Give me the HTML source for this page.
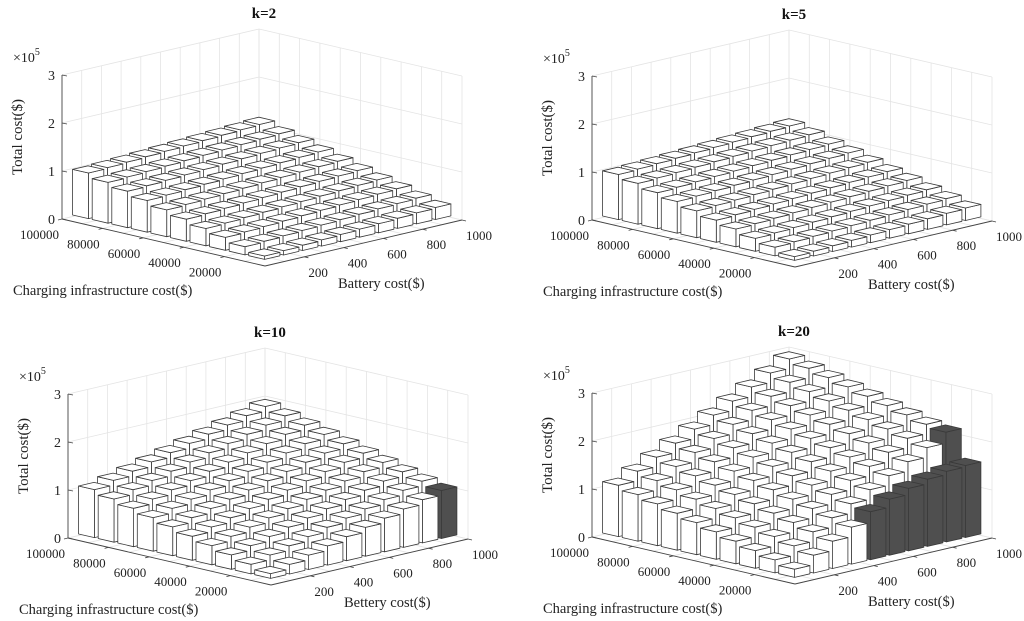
<!DOCTYPE html>
<html><head><meta charset="utf-8">
<style>
html,body{margin:0;padding:0;background:#fff;}
svg{display:block;font-family:"Liberation Serif",serif;}
</style></head>
<body>
<svg id="chart" width="1024" height="621" viewBox="0 0 1024 621" xmlns="http://www.w3.org/2000/svg"></svg>
<script>
// ---- data ----
const batteryCats = [100,200,300,400,500,600,700,800,900,1000];
const chargingCats = [10000,20000,30000,40000,50000,60000,70000,80000,90000,100000];
const batteryTicks = [200,400,600,800,1000];
const chargingTicks = [20000,40000,60000,80000,100000];
const zTicks = [0,1,2,3];
// rows = charging index (10000..100000), columns = battery index (100..1000), units of 1e5
const costK2 = [
 [0.07,0.09,0.11,0.13,0.15,0.17,0.19,0.21,0.23,0.25],
 [0.17,0.19,0.21,0.23,0.25,0.27,0.29,0.31,0.33,0.35],
 [0.27,0.29,0.31,0.33,0.35,0.37,0.39,0.41,0.43,0.45],
 [0.36,0.38,0.40,0.42,0.44,0.46,0.48,0.50,0.52,0.54],
 [0.46,0.48,0.50,0.52,0.54,0.56,0.58,0.60,0.62,0.64],
 [0.56,0.58,0.60,0.62,0.64,0.66,0.68,0.70,0.72,0.74],
 [0.66,0.68,0.70,0.72,0.74,0.76,0.78,0.80,0.82,0.84],
 [0.76,0.78,0.80,0.82,0.84,0.86,0.88,0.90,0.92,0.94],
 [0.85,0.87,0.89,0.91,0.93,0.95,0.97,0.99,1.01,1.03],
 [0.95,0.97,0.99,1.01,1.03,1.05,1.07,1.09,1.11,1.13]];
const costK5 = [
 [0.08,0.10,0.12,0.14,0.16,0.18,0.20,0.22,0.24,0.26],
 [0.18,0.20,0.22,0.24,0.26,0.28,0.30,0.32,0.34,0.36],
 [0.27,0.29,0.31,0.33,0.35,0.37,0.39,0.41,0.43,0.45],
 [0.37,0.39,0.41,0.43,0.45,0.47,0.49,0.51,0.53,0.55],
 [0.46,0.48,0.50,0.52,0.54,0.56,0.58,0.60,0.62,0.64],
 [0.56,0.58,0.60,0.62,0.64,0.66,0.68,0.70,0.72,0.74],
 [0.66,0.68,0.70,0.72,0.74,0.76,0.78,0.80,0.82,0.84],
 [0.75,0.77,0.79,0.81,0.83,0.85,0.87,0.89,0.91,0.93],
 [0.85,0.87,0.89,0.91,0.93,0.95,0.97,0.99,1.01,1.03],
 [0.94,0.96,0.98,1.00,1.02,1.04,1.06,1.08,1.10,1.12]];
const costK10 = [
 [0.10,0.20,0.30,0.40,0.50,0.60,0.70,0.80,0.90,1.00],
 [0.20,0.30,0.40,0.50,0.60,0.70,0.80,0.90,1.00,1.10],
 [0.30,0.40,0.50,0.60,0.70,0.80,0.90,1.00,1.10,1.20],
 [0.40,0.50,0.60,0.70,0.80,0.90,1.00,1.10,1.20,1.30],
 [0.50,0.60,0.70,0.80,0.90,1.00,1.10,1.20,1.30,1.40],
 [0.60,0.70,0.80,0.90,1.00,1.10,1.20,1.30,1.40,1.50],
 [0.70,0.80,0.90,1.00,1.10,1.20,1.30,1.40,1.50,1.60],
 [0.80,0.90,1.00,1.10,1.20,1.30,1.40,1.50,1.60,1.70],
 [0.90,1.00,1.10,1.20,1.30,1.40,1.50,1.60,1.70,1.80],
 [1.00,1.10,1.20,1.30,1.40,1.50,1.60,1.70,1.80,1.90]];
const costK20 = [
 [0.17,0.37,0.57,0.77,1.00,1.17,1.30,1.40,1.47,1.50],
 [0.27,0.47,0.67,0.87,1.07,1.27,1.47,1.67,1.87,2.10],
 [0.37,0.57,0.77,0.97,1.17,1.37,1.57,1.77,1.97,2.17],
 [0.47,0.67,0.87,1.07,1.27,1.47,1.67,1.87,2.07,2.27],
 [0.57,0.77,0.97,1.17,1.37,1.57,1.77,1.97,2.17,2.37],
 [0.67,0.87,1.07,1.27,1.47,1.67,1.87,2.07,2.27,2.47],
 [0.77,0.97,1.17,1.37,1.57,1.77,1.97,2.17,2.37,2.57],
 [0.87,1.07,1.27,1.47,1.67,1.87,2.07,2.27,2.47,2.67],
 [0.97,1.17,1.37,1.57,1.77,1.97,2.17,2.37,2.57,2.77],
 [1.07,1.27,1.47,1.67,1.87,2.07,2.27,2.47,2.67,2.87]];
// highlighted (dark) bars: [battery, charging]
const darkK2 = [];
const darkK5 = [];
const darkK10 = [[1000,10000]];
const darkK20 = [[500,10000],[600,10000],[700,10000],[800,10000],[900,10000],[1000,10000],[1000,20000]];

const panels = [
 {title:'k=2', z:costK2, dark:darkK2, dx:0, dy:0, blabel:'Battery cost($)'},
 {title:'k=5', z:costK5, dark:darkK5, dx:530, dy:1, blabel:'Battery cost($)'},
 {title:'k=10', z:costK10, dark:darkK10, dx:6, dy:319, blabel:'Bettery cost($)'},
 {title:'k=20', z:costK20, dark:darkK20, dx:530, dy:318, blabel:'Battery cost($)'}
];

const NS='http://www.w3.org/2000/svg';
const svg=document.getElementById('chart');
// tick scales (axis box fractions)
const aTick=v=>v/1000;
const bTick=v=>v/100000;
// bar position scales (bars are inset within the box)
const aScale=v=>0.11+(v-100)/1000*0.964;
const bScale=v=>0.11+(v-10000)/100000*0.964;
function P(a,b,z){return [265+197*a-203*b, 266-46*a-47*b-48*z];}
function mk(tag,attrs,parent){const e=document.createElementNS(NS,tag);for(const k in attrs)e.setAttribute(k,attrs[k]);parent.appendChild(e);return e;}
function pts(arr){return arr.map(p=>p[0].toFixed(1)+','+p[1].toFixed(1)).join(' ');}
function line(g,p,q,stroke,w){return mk('line',{x1:p[0],y1:p[1],x2:q[0],y2:q[1],stroke:stroke,'stroke-width':w},g);}

panels.forEach((pn,pi)=>{
 const g=mk('g',{transform:`translate(${pn.dx},${pn.dy})`},svg);
 
 
 const grid=mk('g',{},g);
 
 
 const gc='#e4e4e4';
 for(let k=0;k<=10;k++){
  const t=k/10;
  line(grid,P(t,1,0),P(t,1,3),gc,0.8);
  line(grid,P(1,t,0),P(1,t,3),gc,0.8);
  line(grid,P(t,0,0),P(t,1,0),gc,0.8);
  line(grid,P(0,t,0),P(1,t,0),gc,0.8);
 }
 zTicks.forEach(z=>{
  line(grid,P(0,1,z),P(1,1,z),gc,0.8);
  line(grid,P(1,1,z),P(1,0,z),gc,0.8);
 });
 // axes
 const ax=mk('g',{},g);
 
 
 line(ax,P(0,1,0),P(0,1,3),'#444',0.9);
 line(ax,P(0,1,0),P(0,0,0),'#444',0.9);
 line(ax,P(0,0,0),P(1,0,0),'#444',0.9);
 zTicks.forEach(z=>{
  const p=P(0,1,z);
  line(ax,p,[p[0]+5,p[1]+1],'#444',0.8);
  const t=mk('text',{x:p[0]-7,y:p[1]+5,'text-anchor':'end','font-size':14,fill:'#222'},ax);
  t.textContent=z;
  
  
 });
 chargingTicks.forEach(v=>{
  const p=P(0,bTick(v),0);
  line(ax,p,[p[0]-4,p[1]+1],'#444',0.8);
  const t=mk('text',{x:p[0]-3,y:p[1]+20,'text-anchor':'end','font-size':13,fill:'#222'},ax);
  t.textContent=v;
  
  
 });
 batteryTicks.forEach(v=>{
  const p=P(aTick(v),0,0);
  line(ax,p,[p[0]+4,p[1]+1],'#444',0.8);
  const t=mk('text',{x:p[0]+4,y:p[1]+20,'text-anchor':'start','font-size':13,fill:'#222'},ax);
  t.textContent=v;
  
  
 });
 // bars
 const bars=[];
 chargingCats.forEach((c,j)=>batteryCats.forEach((b,i)=>{
  const dk=pn.dark.some(d=>d[0]===b&&d[1]===c);
  bars.push({a:aScale(b),bb:bScale(c),h:pn.z[j][i],dk:dk});
 }));
 bars.sort((x,y)=>(y.a+y.bb)-(x.a+x.bb));
 const w=0.039;
 const bg=mk('g',{},g);
 
 
 bars.forEach(br=>{
  const a=br.a,b=br.bb,h=br.h;
  const fill=br.dk?'#4f4f4f':'#ffffff';
  const st={fill:fill,stroke:'#3a3a3a','stroke-width':0.8,'stroke-linejoin':'round'};
  const bar=mk('g',{},bg);
  
  
  mk('polygon',Object.assign({points:pts([P(a-w,b-w,0),P(a+w,b-w,0),P(a+w,b-w,h),P(a-w,b-w,h)])},st),bar);
  mk('polygon',Object.assign({points:pts([P(a-w,b-w,0),P(a-w,b+w,0),P(a-w,b+w,h),P(a-w,b-w,h)])},st),bar);
  mk('polygon',Object.assign({points:pts([P(a-w,b-w,h),P(a+w,b-w,h),P(a+w,b+w,h),P(a-w,b+w,h)])},st),bar);
 });
 // labels
 const title=mk('text',{x:264,y:18,'text-anchor':'middle','font-size':15,'font-weight':'bold',fill:'#111'},g);
 title.textContent=pn.title;
 
 
 const ex=mk('text',{x:13,y:62,'font-size':14,fill:'#222'},g);
 ex.innerHTML='×10<tspan dy="-7" font-size="10">5</tspan>';
 
 
 const yt=mk('text',{x:0,y:0,transform:'translate(22,137) rotate(-90)','text-anchor':'middle','font-size':15,fill:'#222'},g);
 yt.textContent='Total cost($)';
 
 
 const ct=mk('text',{x:13,y:295,'font-size':14.5,fill:'#222'},g);
 ct.textContent='Charging infrastructure cost($)';
 
 
 const bt=mk('text',{x:338,y:288,'font-size':14.5,fill:'#222'},g);
 bt.textContent=pn.blabel;
 
 
});
</script>
</body></html>
